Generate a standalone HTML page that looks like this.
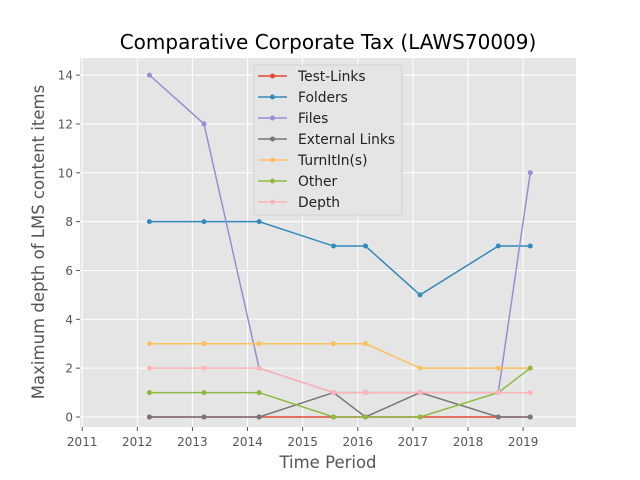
<!DOCTYPE html>
<html><head><meta charset="utf-8"><style>
body{margin:0;background:#fff;}
svg{display:block;font-family:"DejaVu Sans","Liberation Sans",sans-serif;}
</style></head><body>
<svg id="chart" width="640" height="480"></svg>
<script>
const xValues=[2012.22,2013.21,2014.21,2015.56,2016.14,2017.13,2018.55,2019.13];
const seriesNames=["Test-Links","Folders","Files","External Links","TurnItIn(s)","Other","Depth"];
const seriesColors=["#E24A33","#348ABD","#988ED5","#777777","#FBC15E","#8EBA42","#FFB5B8"];
const testLinks=[0,0,0,0,0,0,0,0];
const folders=[8,8,8,7,7,5,7,7];
const files=[14,12,2,1,1,1,1,10];
const externalLinks=[0,0,0,1,0,1,0,0];
const turnitin=[3,3,3,3,3,2,2,2];
const other=[1,1,1,0,0,0,1,2];
const depth=[2,2,2,1,1,1,1,1];
const seriesData=[testLinks,folders,files,externalLinks,turnitin,other,depth];
const xTicks=[2011,2012,2013,2014,2015,2016,2017,2018,2019];
const yTicks=[0,2,4,6,8,10,12,14];

const L=80,R=576,T=58,B=427;
const xMin=2010.96,xMax=2019.96,yMin=-0.41,yMax=14.7;
const sx=v=>L+(v-xMin)/(xMax-xMin)*(R-L);
const sy=v=>B-(v-yMin)/(yMax-yMin)*(B-T);
const svg=document.getElementById('chart');
const NS="http://www.w3.org/2000/svg";
function mk(tag,attrs,parent){const e=document.createElementNS(NS,tag);for(const k in attrs)e.setAttribute(k,attrs[k]);(parent||svg).appendChild(e);return e;}

const bg=mk('rect',{x:L,y:T,width:R-L,height:B-T,fill:'#E5E5E5'});


xTicks.forEach(t=>{
  const g=mk('line',{x1:sx(t),x2:sx(t),y1:T,y2:B,stroke:'#fff','stroke-width':1});
  
  
  mk('line',{x1:sx(t),x2:sx(t),y1:B,y2:B+4,stroke:'#555'});
  const tx=mk('text',{x:sx(t),y:B+19,'text-anchor':'middle','font-size':12,fill:'#555'});
  tx.textContent=t;
  
  
});
yTicks.forEach(t=>{
  const g=mk('line',{x1:L,x2:R,y1:sy(t),y2:sy(t),stroke:'#fff','stroke-width':1});
  
  
  mk('line',{x1:L-4,x2:L,y1:sy(t),y2:sy(t),stroke:'#555'});
  const tx=mk('text',{x:L-7,y:sy(t)+4.5,'text-anchor':'end','font-size':12,fill:'#555'});
  tx.textContent=t;
  
  
});
seriesData.forEach((d,i)=>{
  const pts=d.map((v,j)=>sx(xValues[j])+','+sy(v)).join(' ');
  const pl=mk('polyline',{points:pts,fill:'none',stroke:seriesColors[i],'stroke-width':1.5});
  
  
  d.forEach((v,j)=>{
    const c=mk('circle',{cx:sx(xValues[j]),cy:sy(v),r:2.5,fill:seriesColors[i]});
    
    
  });
});
const lg=mk('g',{});


mk('rect',{x:254,y:65,width:148,height:150,rx:3,fill:'#E5E5E5',stroke:'#ccc','stroke-opacity':0.8},lg);
seriesNames.forEach((n,i)=>{
  const y=76+i*21;
  mk('line',{x1:258,x2:287,y1:y,y2:y,stroke:seriesColors[i],'stroke-width':1.5},lg);
  mk('circle',{cx:272.5,cy:y,r:2.5,fill:seriesColors[i]},lg);
  const t=mk('text',{x:298,y:y+5,'font-size':13.8,fill:'#222'},lg);
  t.textContent=n;
  
  
});
const title=mk('text',{x:328,y:49,'text-anchor':'middle','font-size':20,fill:'#000'});
title.textContent='Comparative Corporate Tax (LAWS70009)';


const xl=mk('text',{x:328,y:468,'text-anchor':'middle','font-size':16.5,fill:'#555'});
xl.textContent='Time Period';


const yl=mk('text',{x:0,y:0,'text-anchor':'middle','font-size':16.5,fill:'#555',transform:'translate(44,242) rotate(-90)'});
yl.textContent='Maximum depth of LMS content items';


</script>
</body></html>
